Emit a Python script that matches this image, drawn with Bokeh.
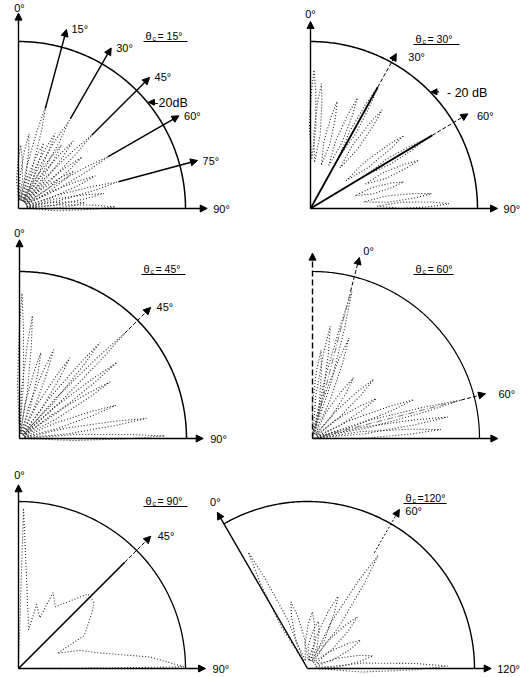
import numpy as np
from bokeh.plotting import figure
from bokeh.models import Range1d, Arrow, NormalHead
from bokeh.core.properties import value
from bokeh.embed import file_html
from bokeh.resources import INLINE

# ---------------- data (angles in degrees, radii as fraction of the -20 dB circle) ----
titles = ["= 15°", "= 30°", "= 45°", "= 60°", "= 90°", "=120°"]

# panel 1  (θc = 15°)
p1_lobe_ang = [2, 8, 15, 21, 26, 30, 34, 39, 45, 51, 56, 60, 67, 75, 80, 85, 89]
p1_lobe_peak = [0.38, 0.45, 0.63, 0.42, 0.50, 0.61, 0.46, 0.52, 0.62, 0.49, 0.40, 0.63, 0.50, 0.61, 0.52, 0.40, 0.58]
p1_lobe_base = [0.05] * 17
p1_scan_ang = [15, 30, 45, 60, 75]
p1_scan_lbl = ["15°", "30°", "45°", "60°", "75°"]

# panel 2  (θc = 30°)
p2_lobe_ang = [1.5, 5, 14, 23, 29, 36, 52, 59, 66, 74, 83, 88]
p2_lobe_peak = [0.83, 0.75, 0.66, 0.72, 0.83, 0.73, 0.71, 0.80, 0.71, 0.58, 0.73, 0.83]
p2_lobe_base = [0.30, 0.28, 0.27, 0.28, 0.35, 0.30, 0.27, 0.40, 0.36, 0.28, 0.32, 0.40]
p2_scan_ang = [29, 59]
p2_scan_lbl = ["30°", "60°"]

# panel 3  (θc = 45°)
p3_lobe_ang = [1, 6, 14, 21, 32, 40, 45, 52, 58, 71, 81, 89]
p3_lobe_peak = [0.87, 0.74, 0.53, 0.57, 0.57, 0.75, 0.89, 0.74, 0.64, 0.61, 0.77, 0.87]
p3_lobe_base = [0.03] * 12
p3_scan_ang = [45]
p3_scan_lbl = ["45°"]

# panel 4  (θc = 60°)
p4_lobe_ang = [5.5, 9, 15, 20, 34, 46, 58, 69, 75.5, 81, 86]
p4_lobe_peak = [0.53, 0.68, 0.91, 0.64, 0.44, 0.51, 0.45, 0.65, 0.92, 0.82, 0.77]
p4_lobe_base = [0.03] * 11
p4_scan_ang = [14.5, 75.5]
p4_scan_lbl = ["0°", "60°"]

# panel 5  (θc = 90°) - one continuous pattern
p5_trace_ang = [0.5, 1.8, 5.6, 14.6, 15.8, 22.8, 24.5, 30.7, 43, 49, 53, 63.4, 68.6, 73.4, 79, 85, 89.4, 89.7, 89.9]
p5_trace_r = [0.03, 0.96, 0.51, 0.24, 0.40, 0.33, 0.50, 0.43, 0.61, 0.60, 0.55, 0.44, 0.25, 0.38, 0.49, 0.79, 0.99, 0.50, 0.05]
p5_scan_ang = [45]
p5_scan_lbl = ["45°"]

# panel 6  (θc = 120°), angles measured from the tilted 0° axis
p6_lobe_ang = [3, 16, 35, 43, 53, 62, 74, 92, 109, 119]
p6_lobe_peak = [0.78, 0.41, 0.34, 0.29, 0.47, 0.80, 0.43, 0.36, 0.40, 0.84]
p6_lobe_base = [0.05] * 10
p6_scan_ang = [60]
p6_scan_lbl = ["60°"]

# ---------------- layout -------------------------------------------------------
R = 167.0
FONT = value("Liberation Sans")
O = [(18, 208), (310, 208), (19, 438), (312, 438), (18, 668), (307, 668)]
TPOS = [(145, 35), (415, 38), (143, 268), (415, 268), (145, 500), (405, 497)]
TW = [42, 44, 42, 38, 42, 41]

p = figure(width=530, height=677, x_range=Range1d(0, 530), y_range=Range1d(677, 0),
           output_backend="svg", toolbar_location=None, min_border=0,
           x_axis_type=None, y_axis_type=None)
p.grid.visible = False
p.outline_line_color = None


def pt(o, ang, frac, rot=0.0):
    a = np.radians(np.asarray(ang, dtype=float) + rot)
    r = np.asarray(frac, dtype=float) * R
    return o[0] + r * np.sin(a), o[1] - r * np.cos(a)


def arrow(o, ang, f0, f1, rot=0.0, width=1.3, dash="solid", size=7):
    x0, y0 = pt(o, ang, f0, rot)
    x1, y1 = pt(o, ang, f1, rot)
    p.add_layout(Arrow(end=NormalHead(size=size, fill_color="black", line_color="black"),
                       x_start=float(x0), y_start=float(y0), x_end=float(x1), y_end=float(y1),
                       line_width=width, line_color="black", line_dash=dash))
    return float(x1), float(y1)


def segment(o, ang, f0, f1, rot=0.0, width=1.3, dash="solid", color="black"):
    x, y = pt(o, [ang, ang], [f0, f1], rot)
    p.line(x, y, line_width=width, line_color=color, line_dash=dash)


def quarter_frame(o, span=90.0, rot=0.0, vlen=1.12, hlen=1.12, vdash="solid", arc_w=1.5):
    a = np.linspace(rot, rot + span, 160)
    x, y = pt(o, a, np.ones_like(a))
    p.line(x, y, line_width=arc_w, line_color="black")
    tv = arrow(o, rot, 0, vlen, width=1.4, dash=vdash)
    th = arrow(o, rot + span, 0, hlen, width=1.4)
    return tv, th


def lobes(o, angs, r0s, r1s, hw, rot=0.0, color="#262626"):
    xs, ys = [], []
    prof_t = [0.0, 0.35, 0.75, 1.0]
    prof_w = [0.0, 1.0, 0.7, 0.0]
    for a, r0, r1 in zip(angs, r0s, r1s):
        A, F = [], []
        for t, w in zip(prof_t, prof_w):
            f = r0 + t * (r1 - r0)
            A.append(a + np.degrees(hw * w / (f * R)))
            F.append(f)
        for t, w in zip(prof_t[::-1][1:], prof_w[::-1][1:]):
            f = r0 + t * (r1 - r0)
            A.append(a - np.degrees(hw * w / (f * R)))
            F.append(f)
        x, y = pt(o, A, F, rot)
        xs.append(list(x))
        ys.append(list(y))
    p.multi_line(xs, ys, line_width=1.1, line_color=color, line_dash="1 2")


lbl_x, lbl_y, lbl_t = [], [], []
zero_x, zero_y, zero_t = [], [], []
ninety_x, ninety_y, ninety_t = [], [], []


def label(xy, dx, dy, t):
    lbl_x.append(xy[0] + dx)
    lbl_y.append(xy[1] + dy)
    lbl_t.append(t)


# ---- panel 1
tv, th = quarter_frame(O[0], vlen=1.17, hlen=1.13)
zero_x.append(tv[0] + 1); zero_y.append(tv[1] + 1); zero_t.append("0°")
ninety_x.append(th[0] + 6); ninety_y.append(th[1]); ninety_t.append("90°")
lobes(O[0], p1_lobe_ang, p1_lobe_base, p1_lobe_peak, 3.0)
for a, l in zip(p1_scan_ang, p1_scan_lbl):
    tip = arrow(O[0], a, 0.62, 1.11, width=1.4)
    label(tip, 5, 0, l)

# ---- panel 2
tv, th = quarter_frame(O[1], vlen=1.12, hlen=1.12)
zero_x.append(tv[0]); zero_y.append(tv[1] - 1); zero_t.append("0°")
ninety_x.append(th[0] + 6); ninety_y.append(th[1]); ninety_t.append("90°")
lobes(O[1], p2_lobe_ang, p2_lobe_base, p2_lobe_peak, 3.2)
for a, l, fs, ft, off in zip(p2_scan_ang, p2_scan_lbl, [0.83, 0.85], [1.06, 1.10], [(12, 3), (9, 2)]):
    segment(O[1], a, 0.0, fs, width=1.8)
    tip = arrow(O[1], a, fs, ft, width=1.0, dash="4 2")
    label(tip, off[0], off[1], l)

# ---- panel 3
tv, th = quarter_frame(O[2], vlen=1.19, hlen=1.10)
zero_x.append(tv[0]); zero_y.append(tv[1] - 1); zero_t.append("0°")
ninety_x.append(th[0] + 7); ninety_y.append(th[1]); ninety_t.append("90°")
lobes(O[2], p3_lobe_ang, p3_lobe_base, p3_lobe_peak, 3.0)
for a, l in zip(p3_scan_ang, p3_scan_lbl):
    tip = arrow(O[2], a, 0.89, 1.11, width=1.0, dash="4 2")
    label(tip, 6, 0, l)

# ---- panel 4
tv, th = quarter_frame(O[3], vlen=1.11, hlen=1.11, vdash="6 3", arc_w=1.2)
lobes(O[3], p4_lobe_ang, p4_lobe_base, p4_lobe_peak, 3.5)
for a, l, fs, ft, off in zip(p4_scan_ang, p4_scan_lbl, [0.91, 0.92], [1.12, 1.07], [(4, -6), (13, 0)]):
    segment(O[3], a, 0.0, fs, width=0.8, dash="6 2 1 2", color="#555555")
    tip = arrow(O[3], a, fs, ft, width=1.0, dash="4 2")
    label(tip, off[0], off[1], l)

# ---- panel 5
tv, th = quarter_frame(O[4], vlen=1.10, hlen=1.12, arc_w=1.3)
zero_x.append(tv[0] + 1); zero_y.append(tv[1] - 4); zero_t.append("0°")
ninety_x.append(th[0] + 7); ninety_y.append(th[1]); ninety_t.append("90°")
x5, y5 = pt(O[4], p5_trace_ang, p5_trace_r)
p.line(x5, y5, line_width=1.1, line_color="#262626", line_dash="1 2")
for a, l in zip(p5_scan_ang, p5_scan_lbl):
    segment(O[4], a, 0.0, 0.9, width=1.6)
    tip = arrow(O[4], a, 0.9, 1.12, width=1.0, dash="4 2")
    label(tip, 7, 0, l)

# ---- panel 6 (120° span, 0° axis tilted 30° to the left)
a6 = np.linspace(-30, 90, 200)
x6, y6 = pt(O[5], a6, np.ones_like(a6))
p.line(x6, y6, line_width=1.4, line_color="black")
tv = arrow(O[5], -30, 0, 1.08, width=1.4)
th = arrow(O[5], 90, 0, 1.10, width=1.4)
zero_x.append(tv[0] - 2); zero_y.append(tv[1] - 4); zero_t.append("0°")
ninety_x.append(th[0] + 6); ninety_y.append(th[1]); ninety_t.append("120°")
lobes(O[5], p6_lobe_ang, p6_lobe_base, p6_lobe_peak, 4.5, rot=-30)
for a, l in zip(p6_scan_ang, p6_scan_lbl):
    tip = arrow(O[5], a, 0.80, 1.10, rot=-30, width=1.0, dash="2 2")
    label(tip, 6, 2, l)

# ---- -20 dB markers (panels 1 and 2)
db_x, db_y, db_t = [], [], []
for o, a, t, gap, shaft in [(O[0], 50.5, "-20dB", 7, 6), (O[1], 45.7, "- 20 dB", 17, 9)]:
    ex, ey = pt(o, a, 1.0)
    ex, ey = float(ex), float(ey)
    p.add_layout(Arrow(end=NormalHead(size=6, fill_color="black", line_color="black"),
                       x_start=ex + shaft, y_start=ey, x_end=ex + 1, y_end=ey,
                       line_width=1.2, line_color="black"))
    db_x.append(ex + gap)
    db_y.append(ey + 1)
    db_t.append(t)
p.text(db_x, db_y, text=db_t, text_font=FONT, text_font_size="12.5px",
       text_align="left", text_baseline="middle", text_color="black")

# ---- texts
p.text(lbl_x, lbl_y, text=lbl_t, text_font=FONT, text_font_size="11px",
       text_align="left", text_baseline="middle", text_color="black")
p.text(zero_x, zero_y, text=zero_t, text_font=FONT, text_font_size="11px",
       text_align="center", text_baseline="bottom", text_color="black")
p.text(ninety_x, ninety_y, text=ninety_t, text_font=FONT, text_font_size="11px",
       text_align="left", text_baseline="middle", text_color="black")

# titles: θ with subscript c, underlined
tx = [t[0] for t in TPOS]
ty = [t[1] for t in TPOS]
p.text(tx, ty, text=["θ"] * 6, text_font=FONT, text_font_size="11px",
       text_align="left", text_baseline="middle", text_color="black")
p.text([x + 7 for x in tx], [y + 3 for y in ty], text=["c"] * 6, text_font=FONT,
       text_font_size="7px", text_align="left", text_baseline="middle", text_color="black")
p.text([x + 12 for x in tx], ty, text=titles, text_font=FONT,
       text_font_size="10.5px", text_align="left", text_baseline="middle", text_color="black")
ux = [[x - 2, x + w] for x, w in zip(tx, TW)]
uy = [[y + 6, y + 6] for y in ty]
p.multi_line(ux, uy, line_width=1.2, line_color="black")

open("out.html", "w").write(file_html(p, INLINE))
